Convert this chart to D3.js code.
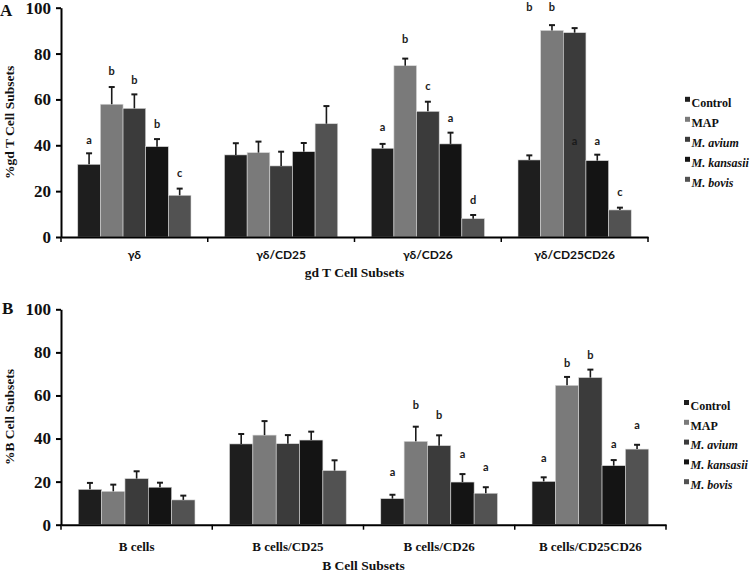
<!DOCTYPE html>
<html><head><meta charset="utf-8">
<script src="https://cdn.jsdelivr.net/npm/d3@7"></script>
<style>body{margin:0;background:#fff}svg{display:block}</style>
</head><body>
<svg id="c" width="750" height="572"></svg>
<script>
const series = ["Control","MAP","M. avium","M. kansasii","M. bovis"];
const seriesColors = ["#1e1e1e","#7a7a7a","#3b3b3b","#141414","#525252"];
const yTicks = [0,20,40,60,80,100];

const catsA = ["γδ","γδ/CD25","γδ/CD26","γδ/CD25CD26"];
const meanA = [
  [31.7,57.9,56.1,39.4,18.2],
  [35.8,36.8,31.0,37.2,49.4],
  [38.7,74.7,54.8,40.6,8.0],
  [33.6,90.1,89.1,33.3,11.8]
];
const errA = [
  [4.8,7.5,6.1,3.3,2.9],
  [5.1,4.8,6.2,3.8,7.7],
  [1.9,3.1,4.2,4.9,1.6],
  [2.0,2.3,2.0,2.6,1.0]
];
const lettersA = [
  ["a","b","b","b","c"],
  ["","","","",""],
  ["a","b","c","a","d"],
  ["b","b","a","a","c"]
];
const letterPosA = [
  [42.3,72.5,68.5,49.3,27.8],
  [0,0,0,0,0],
  [47.7,86.4,66.0,51.9,16.1],
  [100.2,100.2,41.7,41.7,19.5]
];

const catsB = ["B cells","B cells/CD25","B cells/CD26","B cells/CD25CD26"];
const meanB = [
  [16.4,15.5,21.4,17.4,11.5],
  [37.5,41.6,37.6,39.3,25.1],
  [12.1,38.7,36.7,19.8,14.6],
  [20.1,64.7,68.3,27.4,35.1]
];
const errB = [
  [3.0,3.1,3.4,2.1,2.0],
  [4.6,6.5,4.0,3.9,4.8],
  [1.8,6.8,4.8,3.7,2.8],
  [1.9,3.9,3.7,2.6,2.0]
];
const lettersB = [
  ["","","","",""],
  ["","","","",""],
  ["a","b","b","a","a"],
  ["a","b","b","a","a"]
];
const letterPosB = [
  [0,0,0,0,0],
  [0,0,0,0,0],
  [24.3,55.7,50.9,32.7,26.5],
  [31.1,75.2,78.8,37.5,46.0]
];

const svg = d3.select("#c");
const serif = "'Liberation Serif','Times New Roman',serif";
const sans = "Lato,'Open Sans','Liberation Sans',sans-serif";

function panel(cfg){
  const g = svg.append("g");
  const x = d3.scaleBand().domain(cfg.cats).range([cfg.x0,cfg.x1]).padding(0);
  const xi = d3.scaleBand().domain(series).range([0,x.bandwidth()]).paddingInner(0).paddingOuter(0.74);
  const y = d3.scaleLinear().domain([0,100]).range([cfg.yb,cfg.yt]);

  cfg.cats.forEach((c,gi)=>{
    const gg = g.append("g").attr("transform",`translate(${x(c)},0)`);
    series.forEach((s,si)=>{
      const v = cfg.mean[gi][si], e = cfg.err[gi][si];
      const bx = xi(s), bw = xi.bandwidth();
      gg.append("rect").attr("x",bx).attr("y",y(v)).attr("width",bw).attr("height",y(0)-y(v))
        .attr("fill",seriesColors[si]).attr("stroke","#d8d8d8").attr("stroke-width",0.6);
      const cx = bx+bw/2;
      gg.append("line").attr("x1",cx).attr("x2",cx).attr("y1",y(v)).attr("y2",y(v+e))
        .attr("stroke","#1a1a1a").attr("stroke-width",1.6);
      gg.append("line").attr("x1",cx-3).attr("x2",cx+3).attr("y1",y(v+e)).attr("y2",y(v+e))
        .attr("stroke","#1a1a1a").attr("stroke-width",2);
      const L = cfg.letters[gi][si];
      if(L){
        gg.append("text").attr("x",cx).attr("y",y(cfg.letterPos[gi][si])).attr("dy","0.35em")
          .attr("text-anchor","middle").attr("font-family",sans).attr("font-weight","bold")
          .attr("font-size",11).attr("fill","#1a1a1a").text(L);
      }
    });
  });

  const ya = g.append("g").attr("transform",`translate(${cfg.x0},0)`)
    .call(d3.axisLeft(y).tickValues(yTicks).tickSize(5).tickSizeOuter(0).tickPadding(5));
  ya.select(".domain").attr("stroke","#000").attr("stroke-width",2);
  ya.selectAll(".tick line").attr("stroke","#000").attr("stroke-width",2);
  ya.selectAll(".tick text").attr("font-family",serif).attr("font-weight","bold")
    .attr("font-size",cfg.tickSize).attr("fill","#111");

  const xa = g.append("g").attr("transform",`translate(0,${cfg.yb})`)
    .call(d3.axisBottom(x).tickSize(0).tickSizeOuter(0).tickFormat(""));
  xa.select(".domain").attr("stroke","#000").attr("stroke-width",2);
  const bounds = cfg.cats.map(c=>x(c)).concat([cfg.x1]);
  xa.selectAll("line.bnd").data(bounds).join("line").attr("class","bnd")
    .attr("x1",d=>d).attr("x2",d=>d).attr("y1",0).attr("y2",5)
    .attr("stroke","#000").attr("stroke-width",1.5);
  g.selectAll("text.cat").data(cfg.cats).join("text").attr("class","cat")
    .attr("x",d=>x(d)+x.bandwidth()/2).attr("y",cfg.catY).attr("dy","0.35em")
    .attr("text-anchor","middle").attr("font-family",cfg.catFont).attr("font-weight","bold")
    .attr("font-size",cfg.catSize).attr("fill","#111").text(d=>d);
  g.append("text").attr("x",(cfg.x0+cfg.x1)/2).attr("y",cfg.titleY).attr("dy","0.35em")
    .attr("text-anchor","middle").attr("font-family",serif).attr("font-weight","bold")
    .attr("font-size",13.5).attr("fill","#111").text(cfg.xTitle);
  g.append("text").attr("transform",`translate(${cfg.yTitleX},${(cfg.yt+cfg.yb)/2}) rotate(-90)`)
    .attr("dy","0.35em").attr("text-anchor","middle").attr("font-family",serif).attr("font-weight","bold")
    .attr("font-size",13.5).attr("fill","#111").text(cfg.yTitle);
  g.append("text").attr("x",cfg.pX).attr("y",cfg.pY).attr("font-family",serif).attr("font-weight","bold")
    .attr("font-size",17).attr("fill","#111").text(cfg.panel);
  const lg = g.append("g");
  series.forEach((s,si)=>{
    const ly = cfg.legY + si*cfg.legStep;
    lg.append("rect").attr("x",cfg.legX).attr("y",ly-5.5).attr("width",5).attr("height",5).attr("fill",seriesColors[si]);
    lg.append("text").attr("x",cfg.legX+6.5).attr("y",ly).attr("dy","0.35em")
      .attr("font-family",serif).attr("font-weight","bold").attr("font-size",12)
      .attr("font-style",si>=2?"italic":"normal").attr("fill","#111").text(s);
  });
}

panel({cats:catsA,mean:meanA,err:errA,letters:lettersA,letterPos:letterPosA,
  x0:61,x1:648,yt:7.7,yb:237,tickSize:17,catY:255,catFont:sans,catSize:12,
  titleY:272.5,xTitle:"gd T Cell Subsets",yTitle:"%gd T Cell Subsets",yTitleX:9.5,
  panel:"A",pX:0,pY:15.5,legX:685,legY:102.3,legStep:20});
panel({cats:catsB,mean:meanB,err:errB,letters:lettersB,letterPos:letterPosB,
  x0:61,x1:666,yt:309.3,yb:524.7,tickSize:17,catY:546.7,catFont:serif,catSize:13,
  titleY:565,xTitle:"B Cell Subsets",yTitle:"%B Cell Subsets",yTitleX:9.5,
  panel:"B",pX:2,pY:313.5,legX:684,legY:405.5,legStep:19.8});
</script>
</body></html>
